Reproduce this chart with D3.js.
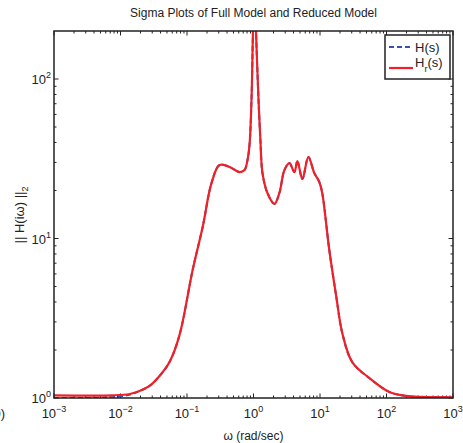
<!DOCTYPE html>
<html>
<head>
<meta charset="utf-8">
<script src="https://cdn.jsdelivr.net/npm/d3@7"></script>
<style>
body { margin: 0; background: #fff; }
text { font-family: "Liberation Sans", Arial, Helvetica, sans-serif; fill: #222; }
</style>
</head>
<body>
<script>
// frequencies (rad/sec) and singular values
var freqs = [0.001, 0.0077, 0.0138, 0.0193, 0.0273, 0.0386, 0.0546, 0.0771, 0.1216, 0.172, 0.234, 0.309,
  0.436, 0.617, 0.733, 0.813, 0.871, 0.933, 0.983, 1.035, 1.09, 1.19, 1.27, 1.365, 1.62, 2.065,
  2.45, 2.92, 3.47, 4.12, 4.57, 5.43, 6.68, 8.22, 9.77, 10.8, 13.8, 17.6, 21.6, 30.5, 55, 110,
  197, 343, 1000];
var hrVals = [1.04, 1.04, 1.06, 1.106, 1.19, 1.374, 1.68, 2.48, 6.35, 11.8, 22.3, 28.9,
  28.1, 26.1, 26.9, 31.1, 38.6, 73.8, 200, 400, 200, 73.8, 41.5, 25.7, 19.3, 16.5,
  19.3, 26.9, 29.7, 26.1, 30.6, 23.6, 32.4, 25.7, 22.6, 19.3, 8.47, 4.30, 2.56, 1.68, 1.335, 1.09,
  1.03, 1.015, 1.01];
var hsVals = [1.0, 1.01, 1.05, 1.106, 1.19, 1.374, 1.68, 2.48, 6.35, 11.8, 22.3, 28.9,
  28.1, 26.1, 26.9, 31.1, 38.6, 73.8, 200, 400, 200, 73.8, 41.5, 25.7, 19.3, 16.5,
  19.3, 26.9, 29.7, 26.1, 30.6, 23.6, 32.4, 25.7, 22.6, 19.3, 8.47, 4.30, 2.56, 1.68, 1.335, 1.09,
  1.03, 1.012, 1.005];
var xTickExps = [-3, -2, -1, 0, 1, 2, 3];
var yTickExps = [0, 1, 2];

var W = 463, H = 443;
var pLeft = 54, pRight = 453, pTop = 31, pBottom = 398;

var svg = d3.select("body").append("svg").attr("width", W).attr("height", H);

var x = d3.scaleLog().domain([1e-3, 1e3]).range([pLeft, pRight]);
var y = d3.scaleLog().domain([1, 200]).range([pBottom, pTop]);

svg.append("clipPath").attr("id", "clip")
  .append("rect").attr("x", pLeft).attr("y", pTop).attr("width", pRight - pLeft).attr("height", pBottom - pTop);

// minor + major ticks, inside, mirrored on all sides
var xMinor = [], yMinor = [];
for (var e = -3; e < 3; e++) for (var k = 2; k < 10; k++) xMinor.push(k * Math.pow(10, e));
for (var e2 = 0; e2 < 3; e2++) for (var k2 = 2; k2 < 10; k2++) {
  var v = k2 * Math.pow(10, e2);
  if (v < 200) yMinor.push(v);
}
var ticks = svg.append("g").attr("stroke", "#222").attr("stroke-width", 1);
function xt(vals, len) {
  vals.forEach(function(d) {
    ticks.append("line").attr("x1", x(d)).attr("x2", x(d)).attr("y1", pBottom).attr("y2", pBottom - len);
    ticks.append("line").attr("x1", x(d)).attr("x2", x(d)).attr("y1", pTop).attr("y2", pTop + len);
  });
}
function yt(vals, len) {
  vals.forEach(function(d) {
    ticks.append("line").attr("y1", y(d)).attr("y2", y(d)).attr("x1", pLeft).attr("x2", pLeft + len);
    ticks.append("line").attr("y1", y(d)).attr("y2", y(d)).attr("x1", pRight).attr("x2", pRight - len);
  });
}
xt(xMinor, 2.5);
xt(xTickExps.map(function(d) { return Math.pow(10, d); }), 4.5);
yt(yMinor, 2.5);
yt(yTickExps.map(function(d) { return Math.pow(10, d); }), 4.5);

// curves
var line = d3.line()
  .x(function(d) { return x(d[0]); })
  .y(function(d) { return y(d[1]); })
  .curve(d3.curveCatmullRom.alpha(0.5));

var plot = svg.append("g").attr("clip-path", "url(#clip)");
plot.append("path")
  .datum(freqs.map(function(f, i) { return [f, hsVals[i]]; }))
  .attr("d", line).attr("fill", "none")
  .attr("stroke", "#3a4fa8").attr("stroke-width", 2).attr("stroke-dasharray", "5,3");
plot.append("path")
  .datum(freqs.map(function(f, i) { return [f, hrVals[i]]; }))
  .attr("d", line).attr("fill", "none")
  .attr("stroke", "#ee2028").attr("stroke-width", 2.2);

// frame
svg.append("rect").attr("x", pLeft).attr("y", pTop).attr("width", pRight - pLeft).attr("height", pBottom - pTop)
  .attr("fill", "none").attr("stroke", "#222").attr("stroke-width", 1.5);

// tick labels
xTickExps.forEach(function(d) {
  var t = svg.append("text").attr("x", x(Math.pow(10, d))).attr("y", 418)
    .attr("text-anchor", "middle").attr("font-size", 13);
  t.append("tspan").text("10");
  t.append("tspan").attr("dy", -6).attr("font-size", 9).text(d < 0 ? "\u2212" + (-d) : d);
});
yTickExps.forEach(function(d) {
  var t = svg.append("text").attr("x", 51).attr("y", y(Math.pow(10, d)) + 5)
    .attr("text-anchor", "end").attr("font-size", 13);
  t.append("tspan").text("10");
  t.append("tspan").attr("dy", -6).attr("font-size", 9).text(d);
});

// stray clipped label at the far left
svg.append("text").attr("x", 5).attr("y", 418).attr("text-anchor", "end").attr("font-size", 13).text("0)");

// titles
svg.append("text").attr("x", (pLeft + pRight) / 2).attr("y", 17).attr("text-anchor", "middle")
  .attr("font-size", 12).text("Sigma Plots of Full Model and Reduced Model");
svg.append("text").attr("x", (pLeft + pRight) / 2).attr("y", 440).attr("text-anchor", "middle")
  .attr("font-size", 12).text("\u03c9 (rad/sec)");
var yl = svg.append("text").attr("transform", "translate(24,215) rotate(-90)")
  .attr("text-anchor", "middle").attr("font-size", 13);
yl.append("tspan").text("|| H(i\u03c9) ||");
yl.append("tspan").attr("dy", 4).attr("font-size", 9).text("2");

// legend
var lg = svg.append("g");
lg.append("rect").attr("x", 385).attr("y", 35).attr("width", 65).attr("height", 44)
  .attr("fill", "#fff").attr("stroke", "#222").attr("stroke-width", 1.5);
lg.append("line").attr("x1", 389).attr("x2", 413).attr("y1", 47).attr("y2", 47)
  .attr("stroke", "#3a4fa8").attr("stroke-width", 2).attr("stroke-dasharray", "5,3");
lg.append("line").attr("x1", 389).attr("x2", 413).attr("y1", 68).attr("y2", 68)
  .attr("stroke", "#ee2028").attr("stroke-width", 2.2);
lg.append("text").attr("x", 415).attr("y", 52).attr("font-size", 13).text("H(s)");
var l2 = lg.append("text").attr("x", 415).attr("y", 67).attr("font-size", 13);
l2.append("tspan").text("H");
l2.append("tspan").attr("dy", 5).attr("font-size", 9).text("r");
l2.append("tspan").attr("dy", -5).text("(s)");
</script>
</body>
</html>
